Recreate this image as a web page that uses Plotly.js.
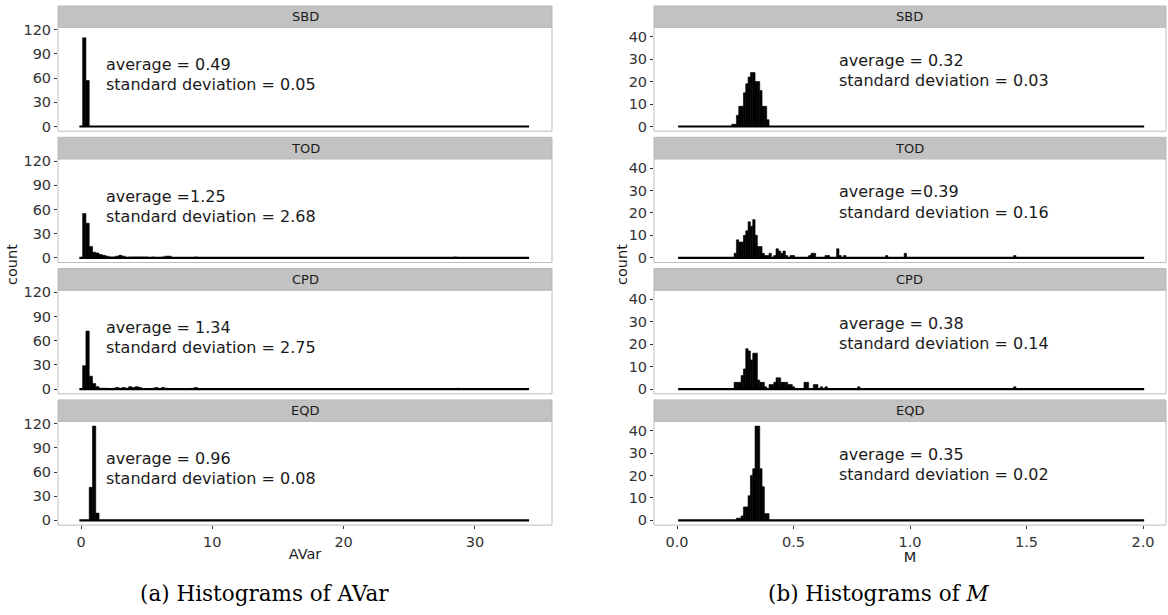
<!DOCTYPE html>
<html><head><meta charset="utf-8">
<script src="https://cdn.plot.ly/plotly-3.0.1.min.js"></script>
<style>html,body{margin:0;padding:0;background:#fff}#chart{width:1168px;height:615px}</style>
</head><body><div id="chart"></div>
<script>
// ---------------- data ----------------
const facets = ["SBD", "TOD", "CPD", "EQD"];

// AVar histograms: bin width 0.25, bins centred on multiples of 0.25 from 0 to 34
const avarBinWidth = 0.25;
const avarBinRange = [0, 34];           // first / last bin centre
const avarSBD_x = [0.25, 0.5];
const avarSBD_n = [110, 57];
const avarTOD_x = [0.25, 0.5, 0.75, 1.0, 1.25, 1.5, 1.75, 2.0, 2.25, 2.5, 2.75, 3.0, 3.25, 3.75, 4.0, 4.25, 4.5, 4.75, 5.0, 5.5, 6.25, 6.5, 6.75, 8.75, 28.5];
const avarTOD_n = [55, 43, 14, 7, 6, 4, 3, 2, 1, 1, 2, 3, 2, 1, 1, 1, 1, 1, 1, 1, 1, 2, 2, 1, 1];
const avarCPD_x = [0.25, 0.5, 0.75, 1.0, 1.25, 1.5, 1.75, 2.0, 2.5, 2.75, 3.0, 3.25, 3.5, 3.75, 4.0, 4.25, 4.5, 5.5, 5.75, 6.25, 6.5, 8.5, 8.75, 28.75];
const avarCPD_n = [29, 72, 16, 7, 3, 1, 1, 1, 1, 2, 1, 2, 1, 3, 2, 3, 2, 1, 2, 2, 1, 1, 2, 1];
const avarEQD_x = [0.75, 1.0, 1.25];
const avarEQD_n = [41, 117, 9];
const avarAverage = ["average = 0.49", "average =1.25", "average = 1.34", "average = 0.96"];
const avarSD = ["standard deviation = 0.05", "standard deviation = 2.68", "standard deviation = 2.75", "standard deviation = 0.08"];

// M histograms: bin width 0.01, bins centred on multiples of 0.01 from 0.01 to 2.00
const mBinWidth = 0.01;
const mBinRange = [0.01, 2.0];
const mSBD_x = [0.24, 0.25, 0.26, 0.27, 0.28, 0.29, 0.30, 0.31, 0.32, 0.33, 0.34, 0.35, 0.36, 0.37, 0.38, 0.39];
const mSBD_n = [1, 1, 5, 9, 9, 15, 19, 22, 24, 24, 20, 20, 16, 9, 9, 3];
const mTOD_x = [0.25, 0.26, 0.27, 0.28, 0.29, 0.30, 0.31, 0.32, 0.33, 0.34, 0.35, 0.36, 0.37, 0.38, 0.39, 0.40, 0.42, 0.43, 0.44, 0.45, 0.46, 0.47, 0.49, 0.50, 0.57, 0.58, 0.59, 0.64, 0.65, 0.69, 0.70, 0.72, 0.90, 0.98, 1.45];
const mTOD_n = [2, 8, 7, 7, 10, 12, 16, 14, 17, 10, 5, 5, 2, 1, 1, 2, 1, 4, 3, 2, 3, 1, 1, 1, 1, 2, 2, 1, 1, 4, 1, 1, 1, 2, 1];
const mCPD_x = [0.25, 0.26, 0.27, 0.28, 0.29, 0.30, 0.31, 0.32, 0.33, 0.34, 0.35, 0.36, 0.37, 0.38, 0.40, 0.41, 0.42, 0.43, 0.44, 0.45, 0.46, 0.47, 0.48, 0.49, 0.50, 0.55, 0.56, 0.59, 0.60, 0.62, 0.64, 0.78, 1.45];
const mCPD_n = [3, 3, 3, 6, 9, 18, 17, 13, 16, 16, 4, 3, 3, 1, 2, 2, 3, 5, 5, 3, 3, 3, 2, 2, 1, 3, 3, 2, 2, 1, 1, 1, 1];
const mEQD_x = [0.26, 0.27, 0.28, 0.29, 0.30, 0.31, 0.32, 0.33, 0.34, 0.35, 0.36, 0.37, 0.38, 0.39];
const mEQD_n = [1, 1, 2, 6, 6, 11, 20, 23, 42, 42, 23, 15, 3, 3];
const mAverage = ["average = 0.32", "average =0.39", "average = 0.38", "average = 0.35"];
const mSD = ["standard deviation = 0.03", "standard deviation = 0.16", "standard deviation = 0.14", "standard deviation = 0.02"];

const avarX = [avarSBD_x, avarTOD_x, avarCPD_x, avarEQD_x];
const avarN = [avarSBD_n, avarTOD_n, avarCPD_n, avarEQD_n];
const mX = [mSBD_x, mTOD_x, mCPD_x, mEQD_x];
const mN = [mSBD_n, mTOD_n, mCPD_n, mEQD_n];

// ---------------- layout geometry (pixels) ----------------
const W = 1168, H = 615;
const px = v => v / W;
const py = v => 1 - v / H;
const colLeft = [58, 552], colRight = [654, 1166];
const stripTop0 = 6, pitch = 131.3, stripH = 21.5, plotH = 103.7;
const SANS = "DejaVu Sans, Liberation Sans, Arial, sans-serif";
const INK = "#1a1a1a";

const traces = [];
const shapes = [];
const annotations = [];
const layout = {
  width: W, height: H,
  margin: {l: 0, r: 0, t: 0, b: 0},
  paper_bgcolor: "#fff", plot_bgcolor: "#fff",
  showlegend: false, barmode: "overlay", bargap: 0,
  font: {family: SANS, color: INK},
};

function xAxis(dom, range, tickvals, anchor, title) {
  return {
    domain: [px(dom[0]), px(dom[1])], range: range, anchor: anchor,
    tickmode: "array", tickvals: tickvals,
    ticks: "outside", ticklen: 3, tickcolor: "#333", tickwidth: 1,
    showgrid: false, zeroline: false, showline: false,
    tickfont: {family: SANS, size: 14.5, color: "#333"},
    title: {text: title, font: {family: SANS, size: 14.5, color: INK}, standoff: 0},
    fixedrange: true,
  };
}
layout.xaxis = xAxis(colLeft, [(58 - 81) / 13.13, (552 - 81) / 13.13], [0, 10, 20, 30], "y4", "AVar");
layout.xaxis2 = xAxis(colRight, [(654 - 677) / 233, (1166 - 677) / 233], [0, 0.5, 1, 1.5, 2], "y8", "M");
layout.xaxis2.tickformat = ".1f";

function addColumn(col, xs, ns, binW, binRange, yRange, yTicks, avgTexts, sdTexts, xName, yOffset, textX, line1, line2) {
  for (let i = 0; i < 4; i++) {
    const yn = yOffset + i + 1;
    const yName = "y" + (yn === 1 ? "" : yn);
    const yKey = "yaxis" + (yn === 1 ? "" : yn);
    const sTop = stripTop0 + i * pitch;
    const pTop = sTop + stripH;
    const pBot = pTop + plotH;
    layout[yKey] = {
      domain: [py(pBot), py(pTop)], range: yRange, anchor: xName,
      tickmode: "array", tickvals: yTicks,
      ticks: "outside", ticklen: 3, tickcolor: "#333", tickwidth: 1,
      showgrid: false, zeroline: false, showline: false,
      tickfont: {family: SANS, size: 14.5, color: "#333"},
      fixedrange: true,
    };
    // baseline formed by the empty bins
    traces.push({
      type: "scatter", mode: "lines", xaxis: xName, yaxis: yName,
      x: [binRange[0] - binW / 2, binRange[1] + binW / 2], y: [0, 0],
      line: {color: "#000", width: 2.2}, hoverinfo: "skip",
    });
    traces.push({
      type: "bar", xaxis: xName, yaxis: yName,
      x: xs[i], y: ns[i], width: binW,
      marker: {color: "#000", line: {color: "#000", width: 0.6}},
    });
    // strip
    shapes.push({type: "rect", xref: "paper", yref: "paper",
      x0: px(col[0]), x1: px(col[1]), y0: py(sTop + stripH), y1: py(sTop),
      fillcolor: "#c2c2c2", line: {color: "#b8b8b8", width: 1}, layer: "below"});
    annotations.push({xref: "paper", yref: "paper", x: px((col[0] + col[1]) / 2), y: py(sTop + stripH / 2),
      text: facets[i], showarrow: false, xanchor: "center", yanchor: "middle",
      font: {family: SANS, size: 13, color: INK}});
    // panel border
    shapes.push({type: "rect", xref: "paper", yref: "paper",
      x0: px(col[0]), x1: px(col[1]), y0: py(pBot), y1: py(pTop),
      fillcolor: "rgba(0,0,0,0)", line: {color: "#bdbdbd", width: 1}, layer: "above"});
    // statistics text
    annotations.push({xref: xName, yref: yName, x: textX, y: line1,
      text: avgTexts[i], showarrow: false, xanchor: "left", yanchor: "middle", borderpad: 0,
      font: {family: SANS, size: 16, color: INK}});
    annotations.push({xref: xName, yref: yName, x: textX, y: line2,
      text: sdTexts[i], showarrow: false, xanchor: "left", yanchor: "middle", borderpad: 0,
      font: {family: SANS, size: 16, color: INK}});
  }
}

addColumn(colLeft, avarX, avarN, avarBinWidth, avarBinRange, [-5.85, 122.85], [0, 30, 60, 90, 120],
  avarAverage, avarSD, "x", 0, 1.85, 76.5, 51.5);
addColumn(colRight, mX, mN, mBinWidth, mBinRange, [-2.1, 44.1], [0, 10, 20, 30, 40],
  mAverage, mSD, "x2", 4, 0.69, 29.4, 20.4);

// y titles
annotations.push({xref: "paper", yref: "paper", x: px(12), y: py(265), text: "count", textangle: -90,
  showarrow: false, xanchor: "center", yanchor: "middle", font: {family: SANS, size: 14.5, color: INK}});
annotations.push({xref: "paper", yref: "paper", x: px(622), y: py(265), text: "count", textangle: -90,
  showarrow: false, xanchor: "center", yanchor: "middle", font: {family: SANS, size: 14.5, color: INK}});
// captions
annotations.push({xref: "paper", yref: "paper", x: px(264), y: py(593), text: "(a) Histograms of AVar",
  showarrow: false, xanchor: "center", yanchor: "middle", font: {family: "DejaVu Serif, serif", size: 21.5, color: "#000"}});
annotations.push({xref: "paper", yref: "paper", x: px(878), y: py(593), text: "(b) Histograms of <i>M</i>",
  showarrow: false, xanchor: "center", yanchor: "middle", font: {family: "DejaVu Serif, serif", size: 21.5, color: "#000"}});

layout.shapes = shapes;
layout.annotations = annotations;
Plotly.newPlot("chart", traces, layout, {staticPlot: true, displayModeBar: false});
</script>
</body></html>
